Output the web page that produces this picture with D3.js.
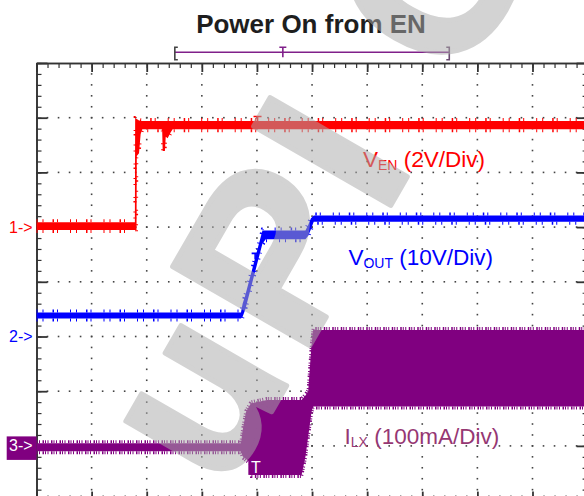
<!DOCTYPE html>
<html>
<head>
<meta charset="utf-8">
<script src="https://cdn.jsdelivr.net/npm/d3@7"></script>
<style>
  body { margin: 0; background: #fff; }
  svg { display: block; font-family: "Liberation Sans", Arial, sans-serif; }
</style>
</head>
<body>
<script>
// time axis in divisions (10 across), each trace given as [t, low, high] envelope in its own units
const enTrace = [ // V_EN, volts
  [0, -0.11, 0.18], [1.785, -0.11, 0.18],
  [1.79, -0.11, 3.95], [1.815, -0.11, 3.95],
  [1.82, 2.6, 3.95], [1.86, 2.7, 3.9], [1.89, 3.4, 3.88], [1.92, 3.58, 3.88],
  [2.28, 3.58, 3.88], [2.29, 2.78, 3.88], [2.33, 2.78, 3.88], [2.345, 3.3, 3.88],
  [2.38, 3.25, 3.88], [2.43, 3.45, 3.88], [2.47, 3.58, 3.88],
  [10, 3.58, 3.88]
];
const outTrace = [ // V_OUT, volts
  [0, 3.3, 4.4], [3.71, 3.3, 4.4], [3.74, 3.6, 6.0], [3.79, 5.0, 7.6],
  [4.10, 17.0, 19.4], [4.16, 17.8, 19.4], [4.88, 17.8, 19.4],
  [4.93, 18.4, 20.4], [4.98, 19.6, 21.6], [5.03, 21.0, 22.1], [10, 21.0, 22.1]
];
const lxTrace = [ // I_LX, mA
  [0, -10, 5], [3.71, -10, 5], [3.74, -19, 28], [3.80, -24, 62], [3.88, -30, 76],
  [3.90, -53, 78], [4.18, -53, 84], [4.81, -53, 84], [4.88, -20, 92], [4.93, 17, 100],
  [4.99, 62, 185], [5.02, 72, 212], [10, 72, 212]
];

const chNames = ["1", "2", "3"];
const chOffset = [1, -1, -3];     // ground marker, divisions from centre
const chPerDiv = [2, 10, 100];    // V/div, V/div, mA/div
const chTraces = [enTrace, outTrace, lxTrace];
const chColor = ["#ff0000", "#0000ff", "#800080"];

const trigT = 4.0;                // trigger position (div)
const recordBar = [2.51, 4.47, 7.49]; // record view: start, trigger, end (div)

const W = 584, H = 496;
const margin = { top: 63, left: 36.5 };
const plotW = 551.1, plotH = 437.6;

const svg = d3.select("body").append("svg")
    .attr("width", W)
    .attr("height", H);

const x = d3.scaleLinear().domain([0, 10]).range([margin.left, margin.left + plotW]);
const y = d3.scaleLinear().domain([-4, 4]).range([margin.top + plotH, margin.top]);
const yCh = (i, v) => y(chOffset[i] + v / chPerDiv[i]);

// graticule dots
const minorX = d3.range(1, 50).map(j => j / 5);
const minorY = d3.range(-19, 20).map(j => j / 5);
const dots = d3.cross(d3.range(-3, 4), minorX).map(([k, t]) => [t, k])
    .concat(d3.cross(d3.range(1, 10), minorY));
svg.append("g").attr("fill", "#444")
    .selectAll("rect").data(dots).join("rect")
    .attr("x", d => x(d[0]) - 0.8)
    .attr("y", d => y(d[1]) - 0.8)
    .attr("width", 1.6).attr("height", 1.6);

// frame with minor / major ticks
const frame = svg.append("g").attr("class", "frame");
const addAxis = (axis, tr, n, size) => {
    const g = frame.append("g").attr("transform", tr)
        .call(axis.ticks(n).tickSize(-size).tickSizeOuter(0).tickFormat(""));
    g.selectAll("path.domain").attr("stroke", "#333").attr("stroke-width", 1.6);
    g.selectAll(".tick line").attr("stroke", "#333").attr("stroke-width", size > 6 ? 1.8 : 1.2);
};
[[50, 5], [10, 9]].forEach(([n, s]) => {
    addAxis(d3.axisTop(x), `translate(0,${y(4)})`, n, s);
    addAxis(d3.axisBottom(x), `translate(0,${y(-4)})`, n, s);
});
[[40, 5], [8, 11]].forEach(([n, s]) => {
    addAxis(d3.axisLeft(y), `translate(${x(0)},0)`, n, s);
    addAxis(d3.axisRight(y), `translate(${x(10)},0)`, n, s);
});

// traces
chTraces.forEach((data, i) => {
    const g = svg.append("g");
    g.append("path").datum(data)
        .attr("fill", chColor[i])
        .attr("d", d3.area()
            .x(d => x(d[0]))
            .y0(d => yCh(i, d[1]))
            .y1(d => yCh(i, d[2])));
    // noise fringe along the band edges
    const dash = i === 2 ? "1,1.5,1,2.5,1.5,1" : "1,5,1,9,1.5,3,1,12";
    [[2, -1.5], [1, 1.5]].forEach(([k, off]) => {
        g.append("path").datum(data)
            .attr("fill", "none")
            .attr("stroke", chColor[i])
            .attr("stroke-width", 3)
            .attr("stroke-dasharray", dash)
            .attr("d", d3.line().x(d => x(d[0])).y(d => yCh(i, d[k]) + off));
    });
});

// trigger marks on the traces
const tMark = (cx, top, w, h, color) => {
    svg.append("path")
        .attr("d", `M${cx - w / 2},${top}H${cx + w / 2}M${cx},${top}V${top + h}`)
        .attr("stroke", color).attr("stroke-width", 1.6).attr("fill", "none");
};
tMark(x(trigT) + 0.6, yCh(0, 3.88) - 4.5, 8, 6, chColor[0]);
tMark(x(trigT) - 1.8, yCh(1, 15.2), 7, 6, chColor[1]);
svg.append("rect")
    .attr("x", x(trigT) - 8.6).attr("y", yCh(2, -53) - 17)
    .attr("width", 15).attr("height", 17)
    .attr("fill", chColor[2]);
svg.append("text")
    .attr("x", x(trigT) - 1.1).attr("y", yCh(2, -53) - 2)
    .attr("text-anchor", "middle")
    .attr("fill", "#fff")
    .style("font-size", "16px")
    .text("T");

// channel ground markers
chNames.forEach((name, i) => {
    const cy = y(chOffset[i]);
    if (i === 2) {
        svg.append("rect")
            .attr("x", 6.7).attr("y", cy - 9.5)
            .attr("width", x(0) - 6.7).attr("height", 23.5)
            .attr("fill", chColor[i]);
    }
    svg.append("text")
        .attr("x", 9).attr("y", cy + 5.5)
        .attr("fill", i === 2 ? "#fff" : chColor[i])
        .style("font-size", "16px")
        .text(name + "->");
});

// channel labels
const chLabels = [
    { main: "V", sub: "EN", rest: " (2V/Div)", t: 5.925, div: 2.10, color: "#ff0000" },
    { main: "V", sub: "OUT", rest: " (10V/Div)", t: 5.66, div: 0.307, color: "#0000ff" },
    { main: "I", sub: "LX", rest: " (100mA/Div)", t: 5.59, div: -2.965, color: "#963773" }
];
chLabels.forEach(l => {
    const txt = svg.append("text")
        .attr("x", x(l.t)).attr("y", y(l.div))
        .attr("fill", l.color)
        .style("font-size", "22.5px");
    txt.append("tspan").text(l.main);
    txt.append("tspan").attr("dy", 3).style("font-size", "14px").text(l.sub);
    txt.append("tspan").attr("dy", -3).text(l.rest);
});

// title
svg.append("text")
    .attr("x", 311).attr("y", 33)
    .attr("text-anchor", "middle")
    .attr("fill", "#1e1e1e")
    .style("font-size", "26px")
    .style("font-weight", "bold")
    .text("Power On from EN");

// record view bar
const barY = 52.3;
const bar = svg.append("g").attr("fill", "none").attr("stroke-width", 1.6);
bar.append("path").attr("stroke", "#80208a")
    .attr("d", `M${x(recordBar[0])},${barY}H${x(recordBar[2])}`);
bar.append("path").attr("stroke", "#80208a")
    .attr("d", `M${x(recordBar[1]) - 3.5},${barY - 5}H${x(recordBar[1]) + 3.5}M${x(recordBar[1])},${barY - 5}V${barY + 5}`);
bar.append("path").attr("stroke", "#444")
    .attr("d", `M${x(recordBar[0]) + 3},${barY - 5}H${x(recordBar[0])}V${barY + 7.5}H${x(recordBar[0]) + 3}`);
bar.append("path").attr("stroke", "#6a4a70")
    .attr("d", `M${x(recordBar[2]) - 3},${barY - 5}H${x(recordBar[2])}V${barY + 7.5}H${x(recordBar[2]) - 3}`);

// watermark
const wm = svg.append("g")
    .attr("transform", "translate(399,191) rotate(-60)")
    .attr("fill", "#ababab")
    .attr("stroke", "#ababab")
    .attr("stroke-width", 5)
    .attr("stroke-linejoin", "round")
    .attr("opacity", 0.52)
    .style("font-size", "230px")
    .style("font-weight", "bold");
wm.append("text").attr("x", -280).attr("text-anchor", "middle").text("u");
wm.append("text").attr("x", -194).text("P");
wm.append("text").attr("x", 0).attr("text-anchor", "middle").text("I");
wm.append("text").attr("x", 121).text("C");
</script>
</body>
</html>
